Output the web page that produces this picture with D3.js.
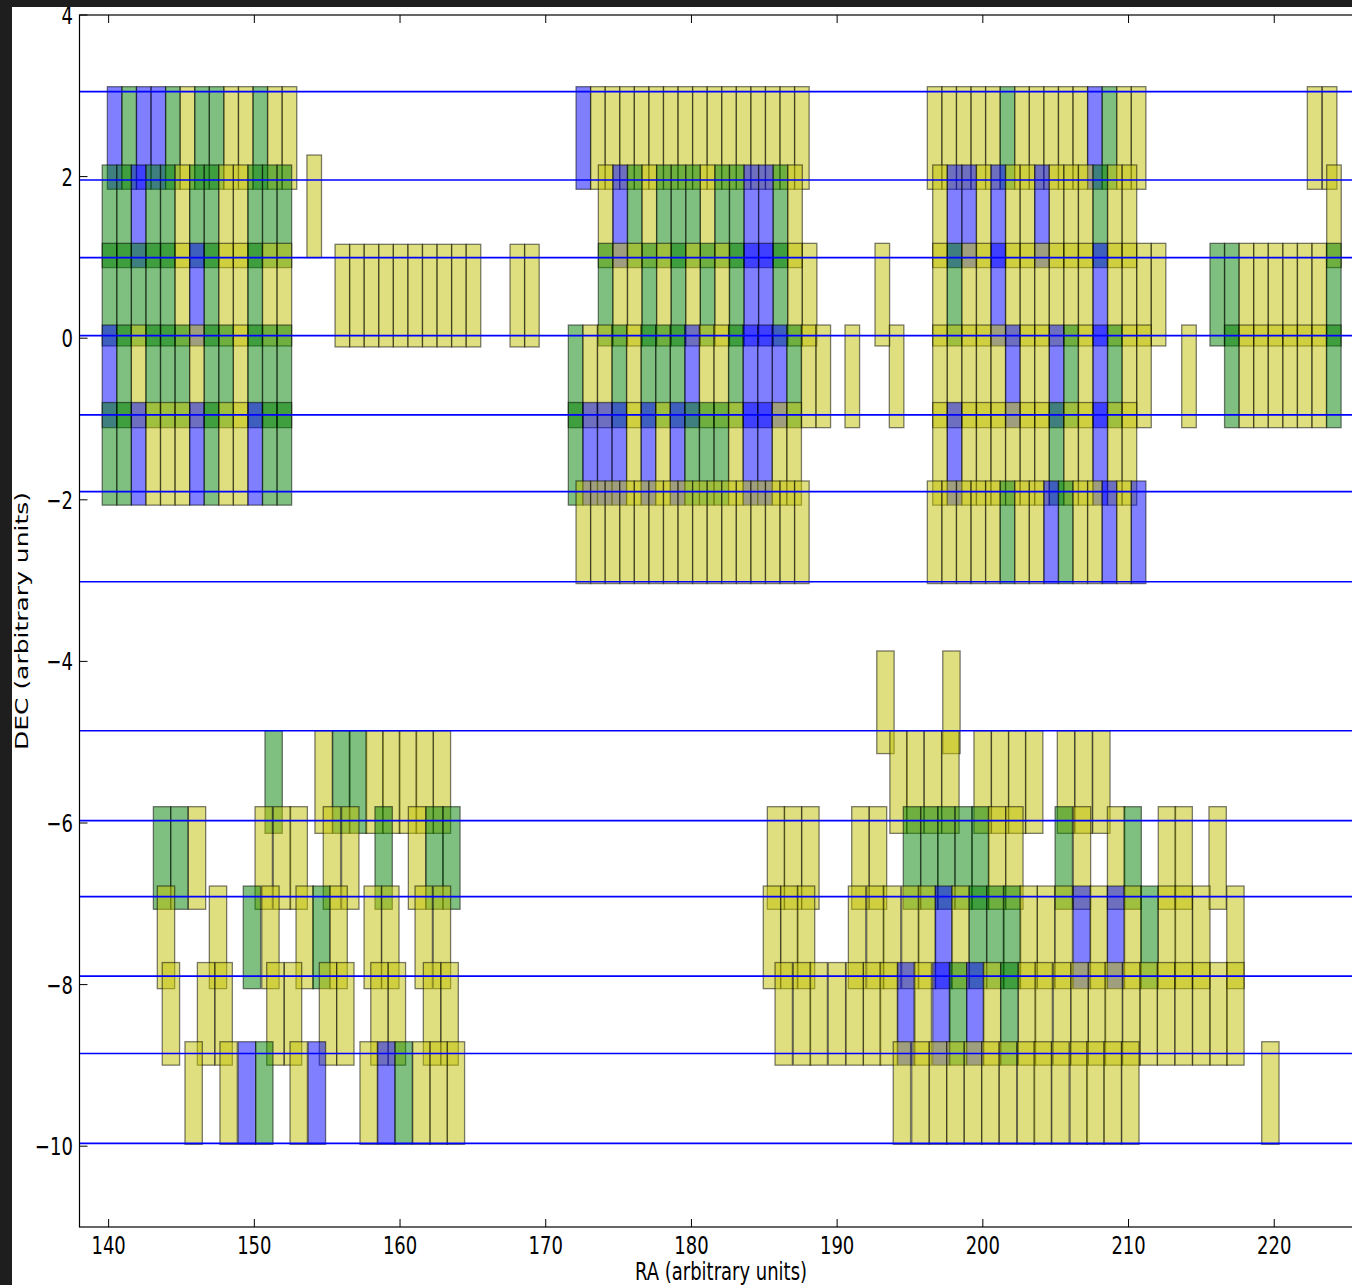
<!DOCTYPE html>
<html>
<head>
<meta charset="utf-8">
<script src="https://cdn.jsdelivr.net/npm/d3@7"></script>
<style>
  body { margin: 0; background: #ffffff; }
  svg { display: block; }
</style>
</head>
<body>
<svg id="chart" width="1352" height="1285"></svg>
<script>
// Survey field footprints. Each row: DEC of the upper edge, RA of the lower-RA edge
// of every field, and the filter band of each field (y / g / b).

const northRows = [
  // western block
  { dec: 3.113, ra: [139.91,140.91,141.91,142.91,143.91,144.91,145.91,146.91,147.91,148.91,149.91,150.91,151.91], band: "bgbbgyggyygyy" },
  { dec: 2.144, ra: [139.56,140.56,141.56,142.56,143.56,144.56,145.56,146.56,147.56,148.56,149.56,150.56,151.56], band: "ggbggyggyyggg" },
  { dec: 1.174, ra: [139.56,140.56,141.56,142.56,143.56,144.56,145.56,146.56,147.56,148.56,149.56,150.56,151.56], band: "gggggybgyygyy" },
  { dec: 0.163, ra: [139.56,140.56,141.56,142.56,143.56,144.56,145.56,146.56,147.56,148.56,149.56,150.56,151.56], band: "bgygggyggyggg" },
  { dec: -0.796, ra: [139.56,140.56,141.56,142.56,143.56,144.56,145.56,146.56,147.56,148.56,149.56,150.56,151.56], band: "ggbyyybgyybgg" },
  { dec: 2.267, ra: [153.61], band: "y" },
  { dec: 1.162, ra: [155.54,156.54,157.54,158.54,159.54,160.54,161.54,162.54,163.54,164.54,167.55,168.55], band: "yyyyyyyyyyyy" },
  // central block
  { dec: 3.113, ra: [172.08,173.08,174.08,175.08,176.08,177.08,178.08,179.08,180.08,181.08,182.08,183.08,184.08,185.08,186.08,187.08], band: "byyyyyyyyyyyyyyy" },
  { dec: 2.144, ra: [173.61,174.61,175.61,176.61,177.61,178.61,179.61,180.61,181.61,182.61,183.61,184.61,185.61,186.61], band: "ybgygggyggbbgy" },
  { dec: 1.174, ra: [173.61,174.61,175.61,176.61,177.61,178.61,179.61,180.61,181.61,182.61,183.61,184.61,185.61,186.61,187.61], band: "gyygygygygbbgyy" },
  { dec: 0.163, ra: [171.55,172.55,173.55,174.55,175.55,176.55,177.55,178.55,179.55,180.55,181.55,182.55,183.55,184.55,185.55,186.55,187.55,188.55], band: "gyygygggbyygbbbgyy" },
  { dec: -0.796, ra: [171.55,172.55,173.55,174.55,175.55,176.55,177.55,178.55,179.55,180.55,181.55,182.55,183.55,184.55,185.55,186.55], band: "gbbbybybgggybbyy" },
  { dec: -1.767, ra: [172.08,173.08,174.08,175.08,176.08,177.08,178.08,179.08,180.08,181.08,182.08,183.08,184.08,185.08,186.08,187.08], band: "yyyyyyyyyyyyyyyy" },
  { dec: 0.163, ra: [190.54,193.58], band: "yy" },
  { dec: 1.174, ra: [192.60], band: "y" },
  // eastern block
  { dec: 3.113, ra: [196.19,197.19,198.19,199.19,200.19,201.19,202.19,203.19,204.19,205.19,206.19,207.19,208.19,209.19,210.19], band: "yyyyygyyyyybgyy" },
  { dec: 2.144, ra: [196.56,197.56,198.56,199.56,200.56,201.56,202.56,203.56,204.56,205.56,206.56,207.56,208.56,209.56], band: "ybbybyybyyygyy" },
  { dec: 1.174, ra: [196.56,197.56,198.56,199.56,200.56,201.56,202.56,203.56,204.56,205.56,206.56,207.56,208.56,209.56,210.56,211.56], band: "ygyybyyyyyybyyyy" },
  { dec: 0.163, ra: [196.56,197.56,198.56,199.56,200.56,201.56,202.56,203.56,204.56,205.56,206.56,207.56,208.56,209.56,210.56], band: "yyyyybyybgybgyy" },
  { dec: -0.796, ra: [196.56,197.56,198.56,199.56,200.56,201.56,202.56,203.56,204.56,205.56,206.56,207.56,208.56,209.56], band: "ybyyyyyygyybyy" },
  { dec: -1.767, ra: [196.19,197.19,198.19,199.19,200.19,201.19,202.19,203.19,204.19,205.19,206.19,207.19,208.19,209.19,210.19], band: "yyyyygyybgyybyb" },
  { dec: 0.163, ra: [213.65], band: "y" },
  // far-eastern block
  { dec: 3.113, ra: [222.27,223.30], band: "yy" },
  { dec: 2.144, ra: [223.60], band: "y" },
  { dec: 1.174, ra: [215.59,216.59,217.59,218.59,219.59,220.59,221.59,222.59,223.59], band: "ggyyyyyyg" },
  { dec: 0.163, ra: [216.59,217.59,218.59,219.59,220.59,221.59,222.59,223.59], band: "gyyyyyyg" }
];

const southRows = [
  // western block
  { dec: -4.858, ra: [150.73,154.16,155.38,156.52,157.66,158.81,159.95,161.10,162.28], band: "gyggyyyyy" },
  { dec: -5.798, ra: [143.07,144.26,145.47,150.05,151.30,152.45,154.73,155.99,158.28,160.57,161.78,162.93], band: "ggyyyyyygygg" },
  { dec: -6.780, ra: [143.34,146.91,149.24,150.51,152.86,154.01,155.19,157.53,158.74,161.03,162.28], band: "yygyygyyyyy" },
  { dec: -7.727, ra: [143.68,146.09,147.30,150.85,152.06,154.46,155.65,157.99,159.19,161.60,162.81], band: "yyyyyyyyyyy" },
  { dec: -8.707, ra: [145.24,147.64,148.90,150.09,152.45,153.70,157.25,158.47,159.65,160.87,162.06,163.24], band: "yybgybybgyyy" },
  // eastern block
  { dec: -3.871, ra: [192.72,197.25], band: "yy" },
  { dec: -4.858, ra: [193.62,194.77,195.98,197.18,199.39,200.59,201.76,202.93,205.11,206.32,207.54], band: "yyyyyyyyyyy" },
  { dec: -5.798, ra: [185.21,186.37,187.57,191.00,192.21,194.54,195.74,196.90,198.09,199.24,200.38,201.57,204.96,206.21,208.55,209.69,212.04,213.19,215.52], band: "yyyyygggggyygyygyyy" },
  { dec: -6.780, ra: [184.93,186.13,187.27,190.77,192.03,193.17,194.43,195.57,196.72,197.86,199.07,200.27,201.41,202.55,203.74,204.96,206.21,207.36,208.55,209.69,210.84,212.04,213.19,214.40,216.74], band: "yyyyyyyybygggyyybybygyyyy" },
  { dec: -7.727, ra: [185.74,186.99,188.14,189.39,190.61,191.80,192.94,194.16,195.28,196.56,197.70,198.89,200.03,201.23,202.44,203.58,204.84,206.05,207.24,208.38,209.60,210.79,211.98,213.19,214.40,215.59,216.74], band: "yyyyyyybybgbygyyyyyyyyyyyyy" },
  { dec: -8.707, ra: [193.85,195.12,196.33,197.52,198.73,199.92,201.13,202.37,203.51,204.73,205.99,207.13,208.32,209.53,219.14], band: "yyyyyyyyyyyyyyy" }
];

// Declination of each scan stripe
const stripeDec = [3.051, 1.958, 0.996, 0.031, -0.950, -1.900, -3.014, -4.858, -5.971, -6.912, -7.894, -8.853, -9.964];

const xTicks = [140, 150, 160, 170, 180, 190, 200, 210, 220];
const yTicks = [4, 2, 0, -2, -4, -6, -8, -10];

// Field sizes (RA x DEC) for the two strips
const northSize = [1.0, 1.27];
const southSize = [1.19, 1.27];

const bandColor = { y: "rgb(191,191,0)", g: "rgb(0,128,0)", b: "rgb(0,0,255)" };

const W = 1352, H = 1285;
const plotLeft = 79.5, plotTop = 15, plotBottom = 1227;
const pxPerRA = 14.57;

const x = d3.scaleLinear().domain([138, 226]).range([plotLeft, plotLeft + 88 * pxPerRA]);
const y = d3.scaleLinear().domain([-11, 4]).range([plotBottom, plotTop]);

const svg = d3.select("#chart");
svg.append("rect").attr("width", W).attr("height", H).attr("fill", "#ffffff");

const defs = svg.append("defs");
defs.append("clipPath").attr("id", "plot-clip")
  .append("rect").attr("x", x(138)).attr("y", y(4))
  .attr("width", x(226) - x(138)).attr("height", y(-11) - y(4));

const plot = svg.append("g").attr("clip-path", "url(#plot-clip)");

function flatten(rows, size) {
  const out = [];
  rows.forEach(r => r.ra.forEach((ra, i) => out.push({ ra, dec: r.dec, band: r.band[i], w: size[0], h: size[1] })));
  return out;
}
const fields = flatten(northRows, northSize).concat(flatten(southRows, southSize));

plot.selectAll("rect.field")
  .data(fields)
  .join("rect")
  .attr("class", "field")
  .attr("x", d => x(d.ra))
  .attr("y", d => y(d.dec))
  .attr("width", d => x(d.ra + d.w) - x(d.ra))
  .attr("height", d => y(d.dec - d.h) - y(d.dec))
  .attr("fill", d => bandColor[d.band])
  .attr("fill-opacity", 0.5)
  .attr("stroke", "#000")
  .attr("stroke-opacity", 0.5)
  .attr("stroke-width", 1.3);

plot.selectAll("line.stripe")
  .data(stripeDec)
  .join("line")
  .attr("class", "stripe")
  .attr("x1", x(138)).attr("x2", x(226))
  .attr("y1", d => y(d)).attr("y2", d => y(d))
  .attr("stroke", "#0000ff")
  .attr("stroke-width", 1.7);

// Axes frame and inward ticks
const axes = svg.append("g").attr("fill", "none").attr("stroke", "#000");
axes.append("rect")
  .attr("x", x(138)).attr("y", y(4))
  .attr("width", x(226) - x(138)).attr("height", y(-11) - y(4))
  .attr("stroke-width", 1.2);

const tickLen = 8;
xTicks.forEach(t => {
  axes.append("line").attr("x1", x(t)).attr("x2", x(t)).attr("y1", plotBottom).attr("y2", plotBottom - tickLen).attr("stroke-width", 1);
  axes.append("line").attr("x1", x(t)).attr("x2", x(t)).attr("y1", plotTop).attr("y2", plotTop + tickLen).attr("stroke-width", 1);
});
yTicks.forEach(t => {
  axes.append("line").attr("x1", plotLeft).attr("x2", plotLeft + tickLen).attr("y1", y(t)).attr("y2", y(t)).attr("stroke-width", 1);
});

const font = "'DejaVu Sans', 'Liberation Sans', sans-serif";
const fontSize = 25;
const squeeze = 0.72;

function label(g, px, py, text, anchor, rotate) {
  g.append("text")
    .attr("transform", `translate(${px},${py}) scale(${squeeze},1)` + (rotate ? ` rotate(${rotate})` : ""))
    .attr("text-anchor", anchor)
    .attr("font-family", font)
    .attr("font-size", fontSize)
    .attr("fill", "#000")
    .text(text);
}
const fmt = v => (v < 0 ? "\u2212" + Math.abs(v) : String(v));

const labels = svg.append("g");
xTicks.forEach(t => label(labels, x(t), 1254, fmt(t), "middle"));
yTicks.forEach(t => label(labels, 73, y(t) + 9, fmt(t), "end"));
label(labels, 721, 1280, "RA (arbitrary units)", "middle");
label(labels, 28, (plotTop + plotBottom) / 2, "DEC (arbitrary units)", "middle", -90);

// Dark surround of the figure
const frame = svg.append("g");
frame.append("rect").attr("x", 0).attr("y", 0).attr("width", 12).attr("height", H).attr("fill", "#1e1e1e");
frame.append("rect").attr("x", 0).attr("y", 0).attr("width", W).attr("height", 7).attr("fill", "#1e1e1e");
</script>
</body>
</html>
